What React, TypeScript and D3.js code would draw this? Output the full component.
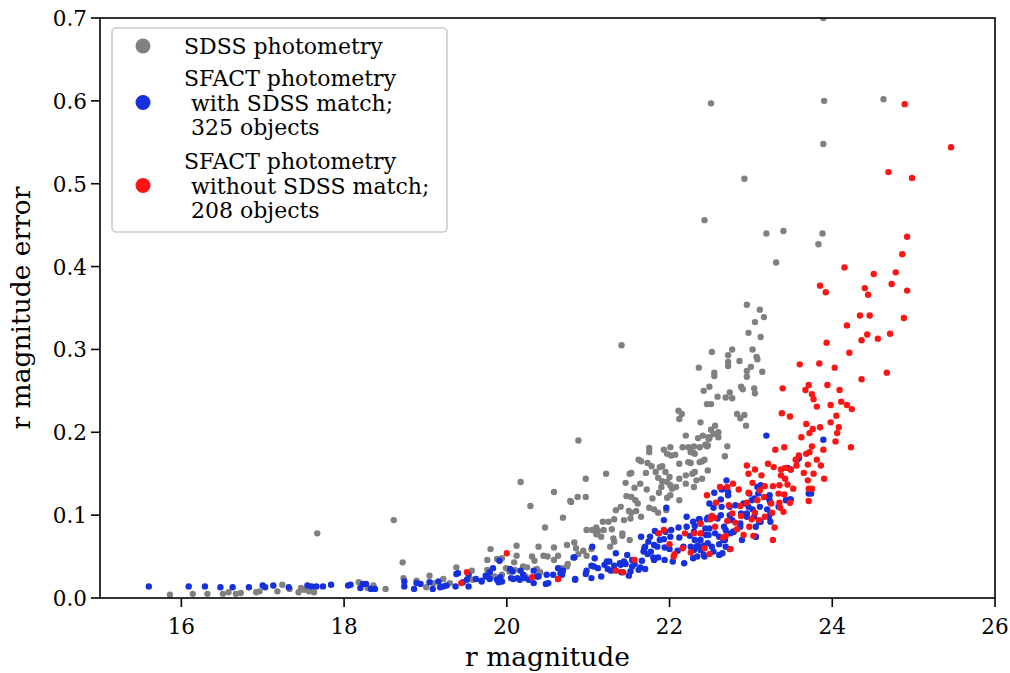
import React from "react";
import * as d3 from "d3";

// [r magnitude, r magnitude error]
const sdssPoints: [number, number][] = [
  [23.89,0.700],[22.51,0.597],[23.90,0.600],[24.63,0.602],[23.89,0.548],[22.92,0.506],[22.43,0.456],[23.88,0.440],[23.19,0.440],[23.40,0.443],[23.83,0.427],[23.31,0.405],[21.41,0.305],[20.88,0.190],[17.67,0.078],[18.61,0.094],
  [22.95,0.354],[23.11,0.348],[23.16,0.339],
  [23.05,0.333],[22.97,0.320],[23.12,0.315],[22.77,0.300],[23.02,0.300],[22.72,0.293],[23.07,0.291],[23.08,0.288],[22.72,0.285],[22.86,0.286],[22.72,0.280],[23.00,0.279],[22.95,0.274],[23.14,0.273],[22.95,0.267],[22.88,0.255],[22.90,0.252],[23.04,0.253],[23.05,0.247],[22.74,0.248],[22.69,0.242],[22.77,0.241],[22.83,0.222],[22.87,0.217],[22.92,0.221],[22.94,0.208],[22.71,0.183],[22.68,0.171],
  [22.52,0.297],[22.36,0.278],[22.55,0.272],[22.55,0.268],[22.49,0.255],[22.42,0.250],[22.59,0.243],[22.46,0.234],[22.51,0.234],[22.11,0.226],[22.15,0.222],[22.12,0.216],[22.38,0.212],[22.20,0.196],[22.56,0.208],[22.51,0.203],[22.60,0.200],[22.54,0.198],[22.41,0.196],[22.49,0.193],[22.35,0.193],[22.60,0.194],[21.75,0.181],[22.01,0.182],[22.16,0.182],[22.26,0.181],[22.46,0.183],
  [22.48,0.194],[22.30,0.183],[22.30,0.175],[22.43,0.167],[22.47,0.154],[22.30,0.134],
  [22.48,0.192],[22.47,0.184],[21.75,0.176],[21.93,0.179],[21.97,0.174],[22.07,0.173],[22.02,0.172],[22.23,0.182],[22.26,0.176],[22.31,0.174],[22.37,0.182],[22.44,0.185],[21.62,0.167],[21.65,0.165],[21.73,0.163],[21.78,0.159],[21.88,0.158],[21.91,0.159],[22.12,0.162],[22.23,0.164],[22.26,0.163],[22.37,0.164],[22.40,0.165],[21.22,0.150],[21.53,0.151],[21.51,0.150],[21.71,0.151],[21.83,0.152],[21.95,0.152],[21.86,0.145],[21.91,0.141],[22.00,0.146],[22.12,0.144],[22.20,0.148],[22.28,0.150],[22.31,0.152],[22.33,0.142],[22.40,0.144],[20.97,0.144],[21.46,0.139],[21.64,0.138],[21.57,0.133],[21.72,0.131],[21.90,0.134],[21.97,0.140],[22.01,0.136],[22.03,0.132],[22.08,0.134],[22.20,0.138],[22.12,0.118],[22.01,0.124],[21.87,0.127],[21.97,0.121],[21.79,0.120],[21.47,0.123],[21.53,0.122],[21.58,0.118],[21.61,0.114],[21.40,0.110],[21.34,0.106],[21.50,0.105],[21.53,0.103],[21.59,0.105],[21.65,0.098],[21.75,0.109],[21.81,0.107],[21.86,0.103],[21.96,0.106],[21.52,0.096],[21.44,0.094],[21.32,0.095],[21.25,0.092],[21.18,0.092],[21.10,0.085],[20.98,0.082],[21.05,0.082],[21.12,0.081],[21.19,0.082],[21.29,0.083],[21.42,0.078],[21.42,0.075],[21.51,0.070],[21.10,0.077],[21.16,0.074],[21.31,0.072],[21.32,0.068],[21.27,0.062],[20.74,0.064],[20.83,0.067],[20.85,0.060],[20.94,0.057],[20.98,0.051],[20.88,0.053],[21.04,0.059],[20.69,0.097],[20.97,0.122],[20.78,0.117],[20.87,0.122],[20.74,0.038],
  [20.17,0.140],[20.58,0.128],[20.29,0.111],[20.79,0.116],[20.47,0.085],[20.12,0.063],[19.80,0.059],[19.76,0.046],[19.88,0.047],[19.94,0.048],[20.09,0.043],[20.12,0.051],[20.31,0.050],[20.34,0.045],[20.39,0.062],[20.50,0.050],[20.58,0.061],[20.58,0.046],[20.63,0.051],[20.68,0.036],[20.75,0.041],[19.38,0.037],[19.57,0.033],[19.76,0.034],[19.79,0.029],[19.85,0.026],[19.94,0.028],[19.99,0.036],[20.03,0.032],[20.10,0.034],[20.20,0.038],[20.25,0.037],[20.37,0.035],[20.41,0.031],[20.23,0.026],[19.91,0.022],[19.30,0.018],[19.58,0.022],[20.45,0.051],
  [15.86,0.004],[16.14,0.005],[16.32,0.005],[16.51,0.005],[16.58,0.007],[16.67,0.005],[16.73,0.006],[16.92,0.007],[16.96,0.008],[17.18,0.008],[17.24,0.016],[17.33,0.011],[17.44,0.007],[17.47,0.012],[17.51,0.010],[17.57,0.008],[17.63,0.007],[18.18,0.019],[18.29,0.012],[18.36,0.015],[18.51,0.011],[18.72,0.043],[18.73,0.024],[18.89,0.021],[19.01,0.013],[19.05,0.027],[19.10,0.018],[19.22,0.023],
];

const matchPoints: [number, number][] = [
  [15.60,0.014],[16.09,0.014],[16.29,0.014],[16.48,0.013],[16.63,0.013],[16.83,0.013],[17.00,0.015],[17.03,0.013],[17.13,0.015],[17.32,0.013],[17.55,0.015],[17.60,0.014],[17.66,0.014],[17.74,0.014],[17.84,0.016],[18.05,0.015],[18.08,0.016],[18.20,0.012],[18.23,0.017],[18.27,0.017],[18.33,0.011],[18.38,0.011],[18.74,0.020],[18.74,0.014],[18.86,0.011],[18.89,0.018],[18.94,0.017],[19.05,0.019],[19.09,0.011],[19.16,0.020],[19.18,0.013],[19.22,0.014],
  [19.40,0.030],[19.37,0.014],[19.46,0.019],[19.53,0.014],[19.53,0.028],[19.62,0.023],[19.69,0.020],[19.74,0.027],[19.83,0.036],[19.79,0.023],[19.90,0.019],[19.91,0.045],[19.92,0.025],[20.04,0.035],[20.05,0.024],[20.08,0.023],[20.13,0.024],[20.17,0.033],[20.20,0.028],[20.27,0.022],[20.33,0.033],[20.33,0.018],[20.37,0.026],[20.48,0.017],[20.49,0.028],[20.57,0.028],[20.63,0.036],[20.68,0.028],[20.69,0.033],[20.82,0.049],[20.84,0.023],
  [19.26,0.015],[19.38,0.029],[19.51,0.022],[19.69,0.021],[19.75,0.026],[19.79,0.031],[19.88,0.022],[19.94,0.020],[20.07,0.032],[20.16,0.022],[20.22,0.024],[20.39,0.026],[20.51,0.018],[20.66,0.030],[20.63,0.023],
  [21.08,0.048],[21.20,0.040],[21.23,0.044],[21.40,0.040],[21.44,0.044],[21.54,0.038],[21.62,0.034],[21.69,0.060],[21.81,0.046],
  [21.96,0.109],[21.93,0.094],[22.21,0.098],[22.29,0.092],[22.37,0.095],[22.47,0.097],[22.21,0.086],[22.11,0.085],[22.02,0.082],[21.82,0.081],[21.65,0.074],[21.76,0.074],[21.86,0.078],[21.95,0.080],[21.93,0.071],[21.88,0.070],[22.01,0.074],[22.12,0.073],[22.25,0.075],[22.31,0.070],[22.38,0.070],[22.45,0.076],[21.74,0.068],[21.81,0.064],[21.70,0.062],[21.85,0.062],[21.94,0.061],[22.00,0.059],[22.10,0.057],[22.17,0.062],[22.26,0.062],[22.33,0.062],[22.38,0.058],[21.68,0.056],[21.73,0.053],[21.77,0.056],[21.80,0.049],[21.86,0.049],[21.94,0.046],[22.04,0.044],[22.18,0.042],[22.29,0.048],[22.43,0.050],[22.42,0.060],[22.47,0.066],[21.48,0.052],[21.54,0.046],[21.57,0.041],[21.64,0.037],[21.70,0.035],[21.46,0.041],[21.39,0.042],[21.32,0.039],[21.26,0.044],[21.34,0.054],[21.24,0.035],[21.28,0.033],[21.41,0.031],[21.52,0.032],[21.12,0.036],[21.07,0.038],[21.04,0.039],[20.98,0.033],[20.97,0.029],[21.04,0.024],[21.16,0.026],[20.84,0.022],[20.83,0.049],[21.05,0.062],[21.66,0.045],[21.50,0.027],
  [22.70,0.142],[22.72,0.128],[22.55,0.127],[22.63,0.119],[22.49,0.114],[22.54,0.109],[22.64,0.110],[22.74,0.110],[22.63,0.100],[22.74,0.100],[22.59,0.096],[22.46,0.095],[22.36,0.095],[22.38,0.090],[22.31,0.087],[22.44,0.084],[22.49,0.084],[22.30,0.080],[22.39,0.078],[22.48,0.076],[22.56,0.078],[22.67,0.086],[22.78,0.080],[22.61,0.074],[22.68,0.070],[22.61,0.065],[22.52,0.062],[22.42,0.063],[22.35,0.063],[22.30,0.058],[22.54,0.056],[22.61,0.052],[22.42,0.052],[22.34,0.050],[22.74,0.059],[22.88,0.102],[22.95,0.098],[22.87,0.090],[22.98,0.126],[23.01,0.118],[23.06,0.086],[23.10,0.092],[23.24,0.102],[23.21,0.122],[23.12,0.136],[23.06,0.074],[23.34,0.110],[23.43,0.118],[23.48,0.119],[23.23,0.118],[23.49,0.155],[23.59,0.169],[23.71,0.126],[23.19,0.196],
  [23.89,0.191],[23.74,0.126],[22.64,0.131],[22.69,0.132],[22.72,0.124],[22.81,0.112],[22.91,0.114],[22.97,0.110],[23.04,0.120],[23.09,0.126],[23.23,0.124],[23.24,0.115],[23.20,0.107],[23.11,0.110],[23.02,0.107],[22.95,0.102],[22.88,0.100],[22.77,0.094],[22.69,0.082],[22.75,0.078],[22.66,0.070],[22.69,0.062],[22.65,0.054],[22.79,0.080],[22.87,0.086],[23.04,0.098],[23.12,0.092],[23.22,0.098],[23.24,0.092],[23.06,0.074],[22.89,0.070],[23.08,0.134],[23.45,0.157],[23.57,0.167],[23.49,0.119],
];

const noMatchPoints: [number, number][] = [
  [24.89,0.596],[25.46,0.544],[24.69,0.514],[24.98,0.507],[24.92,0.436],[24.86,0.415],[24.15,0.399],[24.51,0.391],[24.78,0.393],[23.85,0.377],[23.92,0.369],[24.40,0.374],[24.44,0.366],[24.73,0.379],[24.92,0.371],[24.34,0.341],[24.46,0.341],[24.88,0.338],
  [24.18,0.329],[24.43,0.318],[24.71,0.319],[24.36,0.311],[24.56,0.313],[23.93,0.308],[24.21,0.296],[23.60,0.282],[23.84,0.283],[24.03,0.278],[24.67,0.272],[24.36,0.264],[23.71,0.257],[23.39,0.253],[23.67,0.251],[23.75,0.246],[23.94,0.257],[24.09,0.251],[23.77,0.240],[24.11,0.237],[23.98,0.233],[24.18,0.233],[23.81,0.231],[24.24,0.228],[23.38,0.223],[23.48,0.219],[24.05,0.220],[23.98,0.212],[23.68,0.210],[23.85,0.206],[24.08,0.206],[23.76,0.204],[23.72,0.199],[23.62,0.194],[24.06,0.199],[24.04,0.189],[23.75,0.183],[24.23,0.182],[23.41,0.182],[23.30,0.179],[23.89,0.179],[23.59,0.172],[23.68,0.174],[23.72,0.176],[23.81,0.167],[23.55,0.167],[23.21,0.162],[23.70,0.161],[22.95,0.160],[23.28,0.158],[23.42,0.157],[23.86,0.160],[23.56,0.160],[23.37,0.155],[23.49,0.155],[23.05,0.155],[23.65,0.151],[23.77,0.150],[22.97,0.150],[23.13,0.148],[23.37,0.148],[23.90,0.144],[23.42,0.144],[23.70,0.142],[22.71,0.134],[22.78,0.138],[22.85,0.131],[23.02,0.139],[23.17,0.135],[23.27,0.135],[23.35,0.136],[23.45,0.137],[23.52,0.132],[23.71,0.132],[23.75,0.132],[23.11,0.130],[22.97,0.127],[23.34,0.126],[23.41,0.125],[23.48,0.115],[23.71,0.117],[23.35,0.115],[23.16,0.122],[23.08,0.118],[23.25,0.114],[22.95,0.115],[22.87,0.111],[22.73,0.112],[23.05,0.103],[23.36,0.109],[23.40,0.104],[23.26,0.103],[22.77,0.102],[22.88,0.099],[23.01,0.095],[23.10,0.094],[22.71,0.093],[22.81,0.091],[22.98,0.086],[23.17,0.098],[23.29,0.085],[22.83,0.083],[22.91,0.076],[23.03,0.075],[22.69,0.075],[23.27,0.070],[22.75,0.059],[22.66,0.073],
  [20.00,0.054],[19.51,0.031],[19.44,0.018],[20.31,0.025],[20.63,0.023],[21.34,0.033],[21.43,0.031],[21.57,0.046],[21.87,0.078],[21.93,0.082],[22.00,0.065],[22.06,0.053],[22.05,0.050],[22.16,0.060],[22.26,0.055],[22.19,0.078],[22.30,0.078],[22.38,0.078],[22.38,0.090],[22.46,0.124],[22.49,0.053],[22.43,0.060],[22.62,0.134],[22.57,0.115],[22.52,0.099],[22.50,0.095],[22.55,0.097],[22.56,0.086],
];

const xTicks = [16, 18, 20, 22, 24, 26];
const yTicks = [0.0, 0.1, 0.2, 0.3, 0.4, 0.5, 0.6, 0.7];

const legendEntries = [
  { color: "#808080", lines: ["SDSS photometry"] },
  { color: "#1530dc", lines: ["SFACT photometry", " with SDSS match;", " 325 objects"] },
  { color: "#ff1414", lines: ["SFACT photometry", " without SDSS match;", " 208 objects"] },
];

const W = 1010, H = 673;
const M = { left: 100, right: 995, top: 18, bottom: 598 };
const FONT = "'DejaVu Serif', serif";

export default function App() {
  const x = d3.scaleLinear().domain([15, 26]).range([M.left, M.right]);
  const y = d3.scaleLinear().domain([0, 0.7]).range([M.bottom, M.top]);
  const r = 3.2;

  const series = [
    { pts: sdssPoints, color: "#808080" },
    { pts: matchPoints, color: "#1530dc" },
    { pts: noMatchPoints, color: "#ff1414" },
  ];

  const lgX = 112, lgY = 28, lgW = 335, lgH = 204;
  const lineH = 24.5;
  const entryTops = [34, 66, 149];

  return (
    <div style={{ position: "absolute", left: 0, top: 0 }}>
      <svg width={W} height={H} style={{ display: "block", background: "#fff" }}>
        <defs>
          <clipPath id="plotClip">
            <rect x={M.left} y={M.top} width={M.right - M.left} height={M.bottom - M.top} />
          </clipPath>
        </defs>
        <g clipPath="url(#plotClip)">
          {series.map((s, si) => (
            <g key={si} fill={s.color}>
              {s.pts.map((p, i) => (
                <circle key={i} cx={x(p[0])} cy={y(p[1])} r={r} />
              ))}
            </g>
          ))}
        </g>
        <rect x={M.left} y={M.top} width={M.right - M.left} height={M.bottom - M.top} fill="none" stroke="#000" strokeWidth={1.6} />
        {xTicks.map((t) => (
          <g key={"x" + t}>
            <line x1={x(t)} x2={x(t)} y1={M.bottom} y2={M.bottom + 9} stroke="#000" strokeWidth={1.6} />
            <text x={x(t)} y={M.bottom + 36} textAnchor="middle" fontFamily={FONT} fontSize={21.5} fill="#000">{t}</text>
          </g>
        ))}
        {yTicks.map((t) => (
          <g key={"y" + t}>
            <line x1={M.left - 9} x2={M.left} y1={y(t)} y2={y(t)} stroke="#000" strokeWidth={1.6} />
            <text x={M.left - 13} y={y(t) + 8} textAnchor="end" fontFamily={FONT} fontSize={21.5} fill="#000">{t.toFixed(1)}</text>
          </g>
        ))}
        <text x={(M.left + M.right) / 2} y={666} textAnchor="middle" fontFamily={FONT} fontSize={26.5} fill="#000">r magnitude</text>
        <text transform={`translate(30,${(M.top + M.bottom) / 2}) rotate(-90)`} textAnchor="middle" fontFamily={FONT} fontSize={26.5} fill="#000">r magnitude error</text>
        <rect x={lgX} y={lgY} width={lgW} height={lgH} rx={4} fill="#fff" fillOpacity={0.8} stroke="#cccccc" strokeWidth={1.6} />
        {legendEntries.map((e, ei) => {
          const top = entryTops[ei];
          const n = e.lines.length;
          const cy = top + 12 + ((n - 1) * lineH) / 2;
          return (
            <g key={ei}>
              <circle cx={143} cy={cy} r={7.5} fill={e.color} />
              {e.lines.map((ln, li) => (
                <text key={li} x={184} y={top + 20 + li * lineH} fontFamily={FONT} fontSize={22} fill="#000" style={{ whiteSpace: "pre" }}>{ln}</text>
              ))}
            </g>
          );
        })}
      </svg>
    </div>
  );
}
